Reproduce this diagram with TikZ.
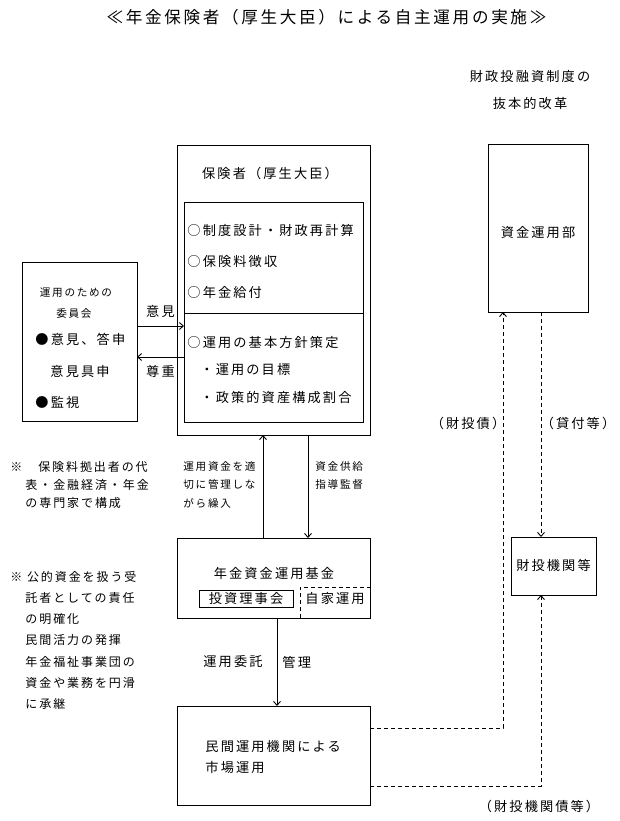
\documentclass[tikz,border=0pt]{standalone}
\usepackage{fontspec}
\setmainfont{Noto Sans CJK JP}[LetterSpace=16]
\usepackage{tikz}
\usetikzlibrary{arrows.meta}
\usetikzlibrary{positioning}

\begin{document}
\begin{tikzpicture}[x=1pt, y=-1pt, >={Straight Barb[length=4pt,width=7pt]},
    line width=0.9pt,
    box/.style={draw, minimum width=#1, inner sep=0pt, outer sep=0pt},
    txt/.style={inner sep=0pt, font=\fontsize{13.2}{14}\selectfont},
    sml/.style={inner sep=0pt, font=\fontsize{10.6}{12}\selectfont},
    note/.style={inner sep=0pt, font=\fontsize{12}{13}\selectfont},
    part/.style={dashed, dash pattern=on 4pt off 3pt}]
        \useasboundingbox (0,0) rectangle (620,821);

        % boxes
        \node[box=115pt, minimum height=159pt] (committee) at (79.5,341.5) {};
        \node[box=193pt, minimum height=290pt] (insurer) at (273.5,290) {};
        \node[box=179pt, minimum height=111pt] (duties) at (273.5,257.5) {};
        \node[box=179pt, minimum height=109pt] (policy) at (273.5,367.5) {};
        \node[box=193pt, minimum height=80pt] (fund) at (273.5,578) {};
        \node[box=94pt, minimum height=17pt] (board) at (246,598.5) {};
        \node[box=193pt, minimum height=99pt] (market) at (273.5,755.5) {};
        \node[box=100pt, minimum height=168pt] (trust) at (538,228) {};
        \node[box=85pt, minimum height=58pt] (agency) at (553.5,566) {};

        % headings
        \node[txt, font=\fontsize{16.6}{18}\selectfont] (title) at (326.5,17) {≪年金保険者（厚生大臣）による自主運用の実施≫};
        \node[txt] (reform1) at (530,77) {財政投融資制度の};
        \node[txt] (reform2) at (530,103) {抜本的改革};

        % committee
        \node[sml] (c1) at (76,293) {運用のための};
        \node[sml] (c2) at (74,313) {委員会};
        \node[txt, anchor=west] (c3) at (35,339) {●意見、答申};
        \node[txt, anchor=west] (c4) at (50,371) {意見具申};
        \node[txt, anchor=west] (c5) at (35,402) {●監視};

        % insurer
        \node[txt] (i0) at (270,173) {保険者（厚生大臣）};
        \node[txt, anchor=west] (i1) at (187,230) {○制度設計・財政再計算};
        \node[txt, anchor=west] (i2) at (187,262) {○保険料徴収};
        \node[txt, anchor=west] (i3) at (187,292) {○年金給付};
        \node[txt, anchor=west] (i4) at (187,342) {○運用の基本方針策定};
        \node[txt, anchor=west] (i5) at (200,370) {・運用の目標};
        \node[txt, anchor=west] (i6) at (200,398) {・政策的資産構成割合};

        % fund
        \node[txt] (f0) at (274,573) {年金資金運用基金};
        \node[txt] (f1) at (board) {投資理事会};
        \node[txt, anchor=west] (f2) at (305,598) {自家運用};
        \draw[part] ([xshift=26.5pt]fund.south) |- ([yshift=-9pt]fund.east);

        % market, right side
        \node[txt, anchor=west] (m1) at (205,747) {民間運用機関による};
        \node[txt, anchor=west] (m2) at (205,767) {市場運用};
        \node[txt] (t0) at (538,233) {資金運用部};
        \node[txt] (a0) at (553.5,565) {財投機関等};

        % notes
        \node[note, anchor=west] (n1) at (10,467) {※　保険料拠出者の代};
        \node[note, anchor=west] (n2) at (25,485) {表・金融経済・年金};
        \node[note, anchor=west] (n3) at (25,503) {の専門家で構成};
        \node[note, anchor=west] (p1) at (10,577) {※ 公的資金を扱う受};
        \node[note, anchor=west] (p2) at (25,598) {託者としての責任};
        \node[note, anchor=west] (p3) at (25,619) {の明確化};
        \node[note, anchor=west] (p4) at (25,640) {民間活力の発揮};
        \node[note, anchor=west] (p5) at (25,662) {年金福祉事業団の};
        \node[note, anchor=west] (p6) at (25,683) {資金や業務を円滑};
        \node[note, anchor=west] (p7) at (25,704) {に承継};

        % connectors
        \draw[->] ([yshift=15.5pt]committee.east) -- ([yshift=15.5pt]committee.east -| policy.west)
            node[txt, midway, above=8pt] (opinion) {意見};
        \draw[->] ([yshift=-15.5pt]committee.east -| policy.west) -- ([yshift=-15.5pt]committee.east)
            node[txt, midway, below=8pt] (respect) {尊重};

        \draw[->] ([xshift=-10.5pt]fund.north) -- ([xshift=-10.5pt]insurer.south);
        \draw[->] ([xshift=34.5pt]insurer.south) -- ([xshift=34.5pt]fund.north);
        \node[sml, anchor=west] (u1) at (183,466) {運用資金を適};
        \node[sml, anchor=west] (u2) at (183,484) {切に管理しな};
        \node[sml, anchor=west] (u3) at (183,503) {がら繰入};
        \node[sml, anchor=west] (s1) at (315,466) {資金供給};
        \node[sml, anchor=west] (s2) at (315,484) {指導監督};

        \draw[->] ([xshift=3.5pt]fund.south) -- ([xshift=3.5pt]fund.south |- market.north);
        \node[txt, anchor=east] (entrust) at (263,662) {運用委託};
        \node[txt, anchor=west] (manage) at (282,662) {管理};

        \draw[part, ->] ([yshift=27.5pt]market.east) -| ([xshift=-35pt]trust.south);
        \draw[part, ->] ([xshift=3pt]trust.south) -- ([xshift=3pt]trust.south |- agency.north);
        \draw[part, ->] ([yshift=-30.5pt]market.east) -| ([xshift=3pt]trust.south |- agency.south);
        \node[txt] (bond) at (468,423) {（財投債）};
        \node[txt] (loan) at (578,423) {（貸付等）};
        \node[txt] (agbond) at (539,806) {（財投機関債等）};
\end{tikzpicture}
\end{document}
